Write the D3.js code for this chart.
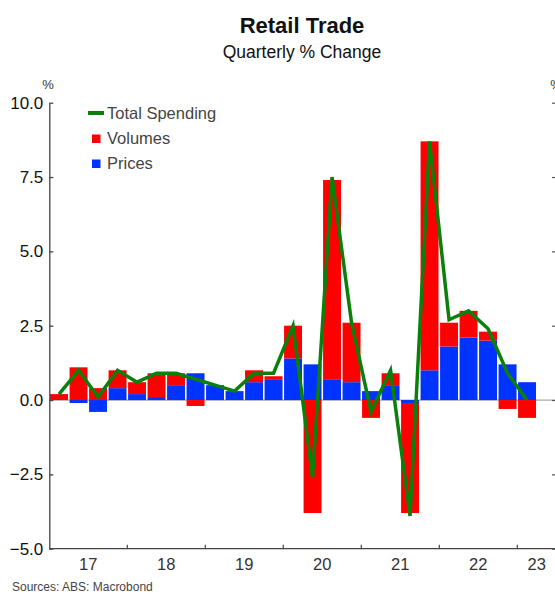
<!DOCTYPE html>
<html>
<head>
<meta charset="utf-8">
<script src="https://cdn.jsdelivr.net/npm/d3@7"></script>
<style>
  body { margin: 0; background: #fff; }
  svg { display: block; font-family: "Liberation Sans", Arial, sans-serif; }
</style>
</head>
<body>
<svg id="svg" width="555" height="594"></svg>
<script>
// quarters 2017Q1 .. 2023Q1
var quarters = ['17Q1','17Q2','17Q3','17Q4','18Q1','18Q2','18Q3','18Q4',
                '19Q1','19Q2','19Q3','19Q4','20Q1','20Q2','20Q3','20Q4',
                '21Q1','21Q2','21Q3','21Q4','22Q1','22Q2','22Q3','22Q4','23Q1']
var prices  = [0, -0.1, -0.4, 0.4, 0.2, 0.1, 0.5, 0.9, 0.5, 0.3, 0.6, 0.7,
               1.4, 1.2, 0.7, 0.6, 0.3, 0.5, -0.1, 1.0, 1.8, 2.1, 2.0, 1.2, 0.6]
var volumes = [0.2, 1.1, 0.4, 0.6, 0.4, 0.8, 0.4, -0.2, 0, 0, 0.4, 0.1,
               1.1, -3.8, 6.7, 2.0, -0.6, 0.4, -3.7, 7.7, 0.8, 0.9, 0.3, -0.3, -0.6]
var total   = [0.2, 1.0, 0.1, 1.0, 0.6, 0.9, 0.9, 0.7, 0.5, 0.3, 0.9, 0.9,
               2.5, -2.6, 7.5, 2.6, -0.4, 1.0, -3.9, 8.7, 2.7, 3.0, 2.4, 0.9, 0.0]
var years = ['17', '18', '19', '20', '21', '22', '23']
var yTicks = [-5, -2.5, 0, 2.5, 5, 7.5, 10]

var svg = d3.select('#svg')

// plot box (note: "top" is reserved on window, so use other names)
var plotL = 49.3, plotT = 102.7, plotB = 548.7, plotR = 556
var qw = 19.5

var x = d3.scaleBand()
    .domain(quarters)
    .range([plotL, plotL + quarters.length * qw])
    .paddingInner(0.08)
    .paddingOuter(0.04)

var y = d3.scaleLinear().domain([-5, 10]).range([plotB, plotT])

// title
svg.append('text')
    .attr('x', 302).attr('y', 33)
    .attr('text-anchor', 'middle')
    .style('font-size', '22px').style('font-weight', 'bold').style('fill', '#111')
    .text('Retail Trade')
svg.append('text')
    .attr('x', 302).attr('y', 58)
    .attr('text-anchor', 'middle')
    .style('font-size', '17.5px').style('fill', '#111')
    .text('Quarterly % Change')

// zero line
svg.append('line')
    .attr('x1', plotL).attr('x2', plotR)
    .attr('y1', y(0)).attr('y2', y(0))
    .style('stroke', '#aaa').style('stroke-width', 1.2)

// stacked bars: prices first, volumes on top (positives up, negatives down)
var rows = quarters.map(function(q, i) {
    return { q: q, prices: prices[i], volumes: volumes[i] }
})
var stack = d3.stack().keys(['prices', 'volumes']).offset(d3.stackOffsetDiverging)
var series = stack(rows)
var colors = { prices: '#0033ff', volumes: '#ff0000' }

svg.append('g').selectAll('g')
    .data(series)
    .join('g')
    .style('fill', function(s) { return colors[s.key] })
    .selectAll('rect')
    .data(function(s) { return s })
    .join('rect')
    .attr('x', function(d) { return x(d.data.q) })
    .attr('width', x.bandwidth())
    .attr('y', function(d) { return y(Math.max(d[0], d[1])) })
    .attr('height', function(d) { return Math.abs(y(d[0]) - y(d[1])) })

// total spending line
var line = d3.line()
    .x(function(d, i) { return x(quarters[i]) + x.bandwidth() / 2 })
    .y(function(d) { return y(d) })

svg.append('path')
    .datum(total)
    .attr('d', line)
    .style('fill', 'none')
    .style('stroke', '#0a800a')
    .style('stroke-width', 3.5)
    .style('stroke-linejoin', 'miter')

// left axis
var yAxis = d3.axisLeft(y)
    .tickValues(yTicks)
    .tickFormat(d3.format('.1f'))
    .tickSizeInner(-4)
    .tickSizeOuter(0)
    .tickPadding(6)

var gy = svg.append('g').attr('transform', 'translate(' + plotL + ',0)').call(yAxis)
gy.select('.domain').style('stroke', '#444').style('stroke-width', 1.3)
gy.selectAll('.tick line').style('stroke', '#444').style('stroke-width', 1.3)
gy.selectAll('.tick text').style('font-size', '17px').style('fill', '#111')
    .style('font-family', '"Liberation Sans", Arial, sans-serif')

// right axis ticks (axis itself lies just outside the window)
var gr = svg.append('g').attr('transform', 'translate(' + plotR + ',0)')
    .call(d3.axisRight(y).tickValues(yTicks).tickSizeInner(-4).tickSizeOuter(0).tickFormat(''))
gr.select('.domain').style('stroke', '#444')
gr.selectAll('.tick line').style('stroke', '#555').style('stroke-width', 1.2)

// bottom axis
svg.append('line')
    .attr('x1', plotL).attr('x2', plotR)
    .attr('y1', plotB).attr('y2', plotB)
    .style('stroke', '#444').style('stroke-width', 1.3)

var yearW = qw * 4
svg.append('g').selectAll('line')
    .data(years.slice(1))
    .join('line')
    .attr('x1', function(d, i) { return x.range()[0] + (i + 1) * yearW })
    .attr('x2', function(d, i) { return x.range()[0] + (i + 1) * yearW })
    .attr('y1', plotB).attr('y2', plotB - 4)
    .style('stroke', '#444').style('stroke-width', 1.2)

svg.append('g').selectAll('text')
    .data(years)
    .join('text')
    .attr('x', function(d, i) {
        var a = x.range()[0] + i * yearW
        var b = Math.min(a + yearW, plotR)
        return (a + b) / 2
    })
    .attr('y', 570)
    .attr('text-anchor', 'middle')
    .style('font-size', '16.5px').style('fill', '#333')
    .text(function(d) { return d })

// unit labels
svg.append('text').attr('x', 48).attr('y', 89).attr('text-anchor', 'middle')
    .style('font-size', '13px').style('fill', '#333').text('%')
svg.append('text').attr('x', 556).attr('y', 89).attr('text-anchor', 'middle')
    .style('font-size', '13px').style('fill', '#333').text('%')

// legend
var legend = svg.append('g').attr('transform', 'translate(88,113)')
legend.append('line')
    .attr('x1', 0).attr('x2', 16).attr('y1', 0).attr('y2', 0)
    .style('stroke', '#0a800a').style('stroke-width', 4)
legend.append('rect').attr('x', 4).attr('y', 21.5).attr('width', 8.5).attr('height', 8.5)
    .style('fill', '#ff0000')
legend.append('rect').attr('x', 4).attr('y', 46.5).attr('width', 8.5).attr('height', 8.5)
    .style('fill', '#0033ff')
var legendLabels = ['Total Spending', 'Volumes', 'Prices']
legend.selectAll('text.lab')
    .data(legendLabels)
    .join('text')
    .attr('class', 'lab')
    .attr('x', 19)
    .attr('y', function(d, i) { return i * 25 + 6 })
    .style('font-size', '16.5px').style('fill', '#444')
    .text(function(d) { return d })

// source
svg.append('text').attr('x', 12).attr('y', 591)
    .style('font-size', '12px').style('fill', '#444')
    .text('Sources: ABS: Macrobond')
</script>
</body>
</html>
